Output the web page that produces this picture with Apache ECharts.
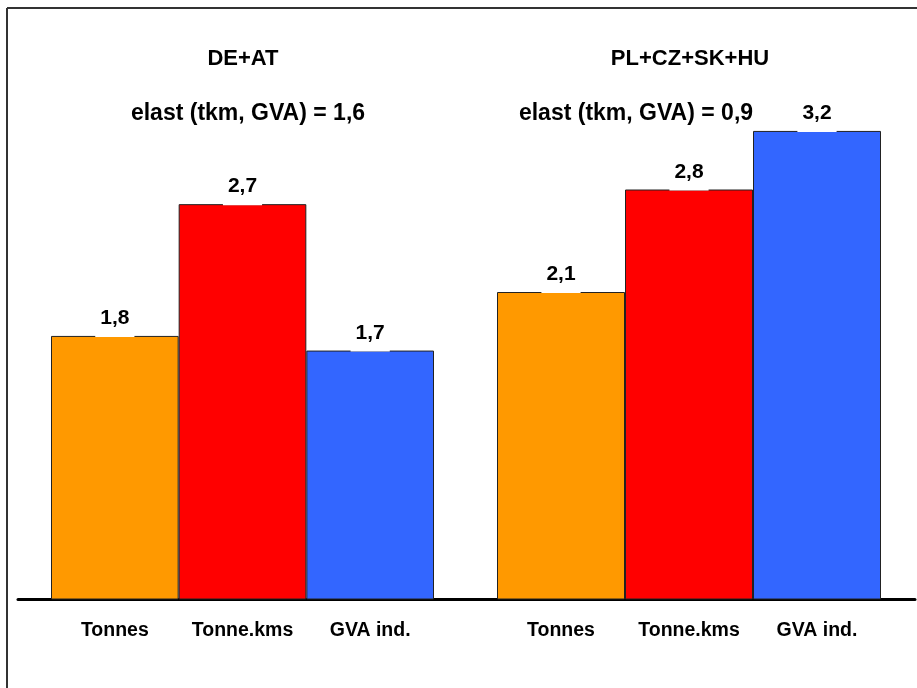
<!DOCTYPE html>
<html>
<head>
<meta charset="utf-8">
<script src="https://cdn.jsdelivr.net/npm/echarts@6/dist/echarts.min.js"></script>
<style>
  html, body { margin: 0; padding: 0; background: #fff; }
  #chart { width: 917px; height: 688px; }
</style>
</head>
<body>
<div id="chart"></div>
<script>
// Indicator labels (shared by both regions)
const measures = ['Tonnes', 'Tonne.kms', 'GVA ind.'];
const barColors = ['#FF9900', '#FF0000', '#3366FF'];

// Region names and elasticities
const regionNames = ['DE+AT', 'PL+CZ+SK+HU'];
const elasticities = ['1,6', '0,9'];

// Values per region, in measure order
const westValues = [1.8, 2.7, 1.7];
const eastValues = [2.1, 2.8, 3.2];

const FONT = '"Liberation Sans", Arial, sans-serif';
const Y_MAX = 3.5;
const TOP = 87, BOTTOM = 88.5;

const fmt = v => v.toFixed(1).replace('.', ',');

function barData(values) {
  return values.map((v, i) => ({ value: v, itemStyle: { color: barColors[i] } }));
}

function barSeries(values, idx) {
  return {
    type: 'bar',
    xAxisIndex: idx,
    yAxisIndex: idx,
    data: barData(values),
    barCategoryGap: 0,
    itemStyle: { borderColor: '#222', borderWidth: 1 },
    label: {
      show: true,
      position: 'top',
      distance: -1,
      formatter: p => fmt(p.value),
      fontFamily: FONT,
      fontWeight: 'bold',
      fontSize: 21,
      lineHeight: 21,
      color: '#000',
      backgroundColor: '#fff',
      padding: [2, 5, 8, 5]
    },
    emphasis: { disabled: true },
    z: 2
  };
}

function catAxis(idx) {
  return {
    type: 'category',
    gridIndex: idx,
    data: measures,
    axisLine: { show: false },
    axisTick: { show: false },
    axisLabel: {
      interval: 0,
      hideOverlap: false,
      margin: 21,
      fontFamily: FONT,
      fontWeight: 'bold',
      fontSize: 19.5,
      color: '#000'
    }
  };
}

function valAxis(idx) {
  return {
    type: 'value',
    gridIndex: idx,
    min: 0,
    max: Y_MAX,
    show: false
  };
}

const titleStyle = { fontFamily: FONT, fontWeight: 'bold', fontSize: 22, color: '#000' };
const elastStyle = { fontFamily: FONT, fontWeight: 'bold', fontSize: 23, color: '#000' };

const chart = echarts.init(document.getElementById('chart'), null, { renderer: 'canvas' });

chart.setOption({
  backgroundColor: '#fff',
  animation: false,
  title: [
    { text: regionNames[0], left: 243, top: 48, textAlign: 'center', padding: 0, textStyle: titleStyle },
    { text: 'elast (tkm, GVA) = ' + elasticities[0], left: 248, top: 102, textAlign: 'center', padding: 0, textStyle: elastStyle },
    { text: regionNames[1], left: 690, top: 48, textAlign: 'center', padding: 0, textStyle: titleStyle },
    { text: 'elast (tkm, GVA) = ' + elasticities[1], left: 636, top: 102, textAlign: 'center', padding: 0, textStyle: elastStyle }
  ],
  grid: [
    { left: 51, width: 383, top: TOP, bottom: BOTTOM },
    { left: 497, width: 384, top: TOP, bottom: BOTTOM },
    // full-width baseline under both groups
    { left: 18, right: 2, top: TOP, bottom: BOTTOM }
  ],
  xAxis: [
    catAxis(0),
    catAxis(1),
    {
      type: 'value', gridIndex: 2, min: 0, max: 1,
      axisLine: { show: true, onZero: false, lineStyle: { color: '#000', width: 3 } },
      axisTick: { show: false }, axisLabel: { show: false }, splitLine: { show: false }
    }
  ],
  yAxis: [valAxis(0), valAxis(1), valAxis(2)],
  series: [barSeries(westValues, 0), barSeries(eastValues, 1)],
  graphic: [
    // frame edges
    { type: 'line', shape: { x1: 7, y1: 8, x2: 917, y2: 8 }, style: { stroke: '#333', lineWidth: 2 }, silent: true },
    { type: 'line', shape: { x1: 7, y1: 8, x2: 7, y2: 688 }, style: { stroke: '#333', lineWidth: 2 }, silent: true }
  ]
});
</script>
</body>
</html>
